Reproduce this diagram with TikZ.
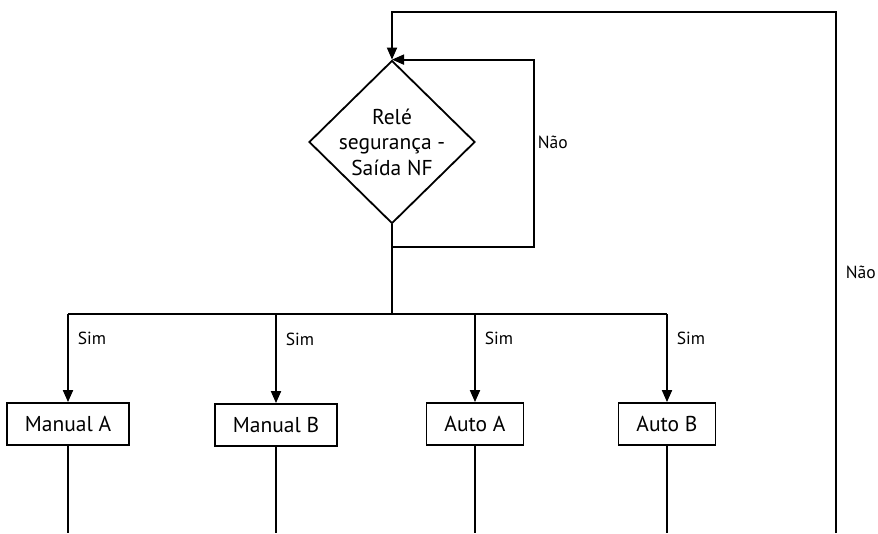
\documentclass[tikz,border=0pt]{standalone}
\usepackage{fontspec}
\setmainfont{PT Sans}
\usetikzlibrary{arrows.meta,positioning,shapes.geometric}

\begin{document}
\begin{tikzpicture}[x=1pt,y=-1pt,
  decision/.style={draw,diamond,line width=1.8pt,minimum width=166pt,minimum height=163pt,inner sep=-6pt,align=center,font=\fontsize{21.5}{25.5}\selectfont},
  mode/.style={draw,line width=1.8pt,minimum height=42pt,inner xsep=18pt,inner ysep=3pt,font=\fontsize{21.5}{24}\selectfont},
  flow/.style={line width=1.8pt},
  arrow/.style={flow,-{Triangle[width=10pt,length=12pt]}},
  tag/.style={font=\fontsize{17.5}{20}\selectfont,anchor=west,inner sep=0pt,xshift=9pt}
]
\useasboundingbox (0,0) rectangle (878,533);
\node[decision] (rele) at (392,142) {Relé\\segurança -\\Saída NF};
\node[mode] (manA) at (68,424) {Manual A};
\node[mode] (manB) at (276,425) {Manual B};
\node[mode] (autA) at (475,424) {Auto A};
\node[mode] (autB) at (667,424) {Auto B};
\coordinate (loopin) at (392,247);
\coordinate (loopR) at (534,247);
\coordinate (split) at (392,314);
\coordinate (bottom) at (0,533);
\coordinate (backB) at (836,533);
\coordinate (backT) at (836,12);
% saida do rele
\draw[flow] (rele.south) -- (split);
\draw[flow] (split -| manA) -- (split -| autB);
\foreach \m in {manA,manB,autA,autB}{
  \draw[arrow] (split -| \m) -- (\m.north) node[tag,pos=0.28] {Sim};
  \draw[flow] (\m.south) -- (\m.south |- bottom);
}
% retornos
\draw[arrow] (loopin) -- (loopR) |- (rele.north) node[tag,pos=0.28,xshift=-6pt] {Não};
\draw[arrow] (backB) -- (backT) node[tag,pos=0.5] {Não} -| (rele.north);
\end{tikzpicture}
\end{document}
